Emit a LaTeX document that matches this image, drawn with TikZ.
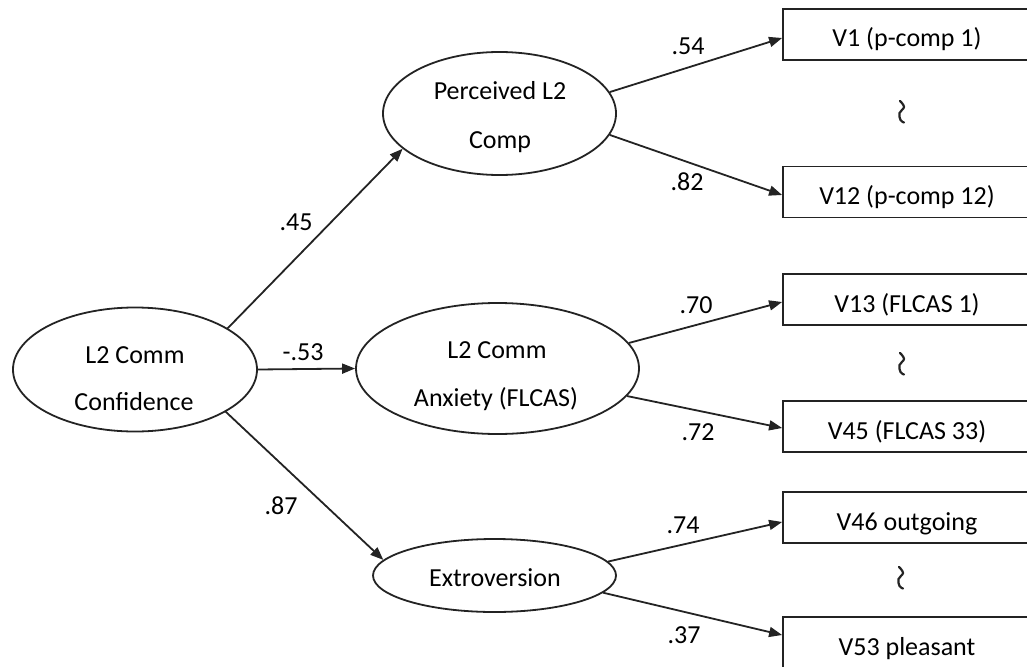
\documentclass[tikz,border=0pt]{standalone}
\usepackage{fontspec}
\setmainfont{Carlito}
\usetikzlibrary{arrows.meta,shapes.geometric,calc}
\definecolor{inkc}{RGB}{35,35,35}

\begin{document}
\begin{tikzpicture}[x=1pt,y=-1pt,
  ink/.style={draw=inkc, line width=1.8pt},
  latent/.style={ellipse, ink, inner sep=0pt},
  observed/.style={rectangle, ink, inner sep=0pt, minimum width=248pt,
    minimum height=51pt, text height=30pt, text depth=5pt,
    font=\fontsize{26}{30}\selectfont},
  txt/.style={inner sep=0pt, font=\fontsize{26}{30}\selectfont},
  coef/.style={txt, anchor=center},
  load/.style={ink, -{Triangle[length=13pt,width=10pt]}},
  gapmark/.style={draw=inkc, line width=2.2pt, line cap=round},
]
\clip (0,0) rectangle (1027,666);
\useasboundingbox (0,0) rectangle (1027,666);

% latent factors
\node[latent, minimum width=244pt, minimum height=124pt] (conf) at (135,369.5) {};
\node[latent, minimum width=233pt, minimum height=123pt] (perc) at (499.5,113.5) {};
\node[latent, minimum width=283pt, minimum height=131pt] (anx)  at (497.5,368.5) {};
\node[latent, minimum width=243pt, minimum height=73pt]  (extr) at (494.5,575.5) {};

\node[txt, anchor=base] (conf-a) at (135,363) {L2 Comm};
\node[txt, anchor=base] (conf-b) at (134,410) {Confidence};
\node[txt, anchor=base] (perc-a) at (500,100) {Perceived L2};
\node[txt, anchor=base] (perc-b) at (500,148) {Comp};
\node[txt, anchor=base] (anx-a)  at (497,358) {L2 Comm};
\node[txt, anchor=base] (anx-b)  at (496,406) {Anxiety (FLCAS)};
\node[txt, anchor=base] (extr-a) at (495,586) {Extroversion};

% observed indicators
\node[observed] (v1)  at (907,34.5)  {V1 (p-comp 1)};
\node[observed] (v12) at (907,192)   {V12 (p-comp 12)};
\node[observed] (v13) at (907,299.5) {V13 (FLCAS 1)};
\node[observed] (v45) at (907,426.5) {V45 (FLCAS 33)};
\node[observed] (v46) at (907,517.5) {V46 outgoing};
\node[observed] (v53) at (907,642.5) {V53 pleasant};

% structural paths
\draw[load] (conf.24)  -- (perc.200);
\draw[load] (conf.east) -- (anx.west);
\draw[load] (conf.335) -- (extr.172);

% measurement paths
\draw[load] (perc.11)  -- ($(v1.west)+(0,3.5)$);
\draw[load] (perc.349) -- ($(v12.west)+(0,3)$);
\draw[load] (anx.11.5) -- ($(v13.west)+(0,2.5)$);
\draw[load] (anx.348.7) -- ($(v45.west)+(0,1.5)$);
\draw[load] (extr.7.6) -- ($(v46.west)+(0,4.5)$);
\draw[load] (extr.351.8) -- ($(v53.west)+(0,-7.5)$);

% coefficients
\node[coef] (c-perc) at (296,222) {.45};
\node[coef] (c-anx)  at (303,352) {-.53};
\node[coef] (c-extr) at (281,506) {.87};
\node[coef] (c-v1)   at (688,46)  {.54};
\node[coef] (c-v12)  at (687,182) {.82};
\node[coef] (c-v13)  at (696,305) {.70};
\node[coef] (c-v45)  at (698,432) {.72};
\node[coef] (c-v46)  at (683,525.5) {.74};
\node[coef] (c-v53)  at (684,635) {.37};

% omitted indicators
\coordinate (g1) at (902,112);
\coordinate (g2) at (902,364);
\coordinate (g3) at (901,578);
\foreach \g in {g1,g2,g3}{
  \draw[gapmark, shift={(\g)}] plot[smooth, tension=0.7]
    coordinates {(-2,-11) (2,-5) (-2.5,1) (-1.5,8) (2,10.5)};
}
\end{tikzpicture}
\end{document}
